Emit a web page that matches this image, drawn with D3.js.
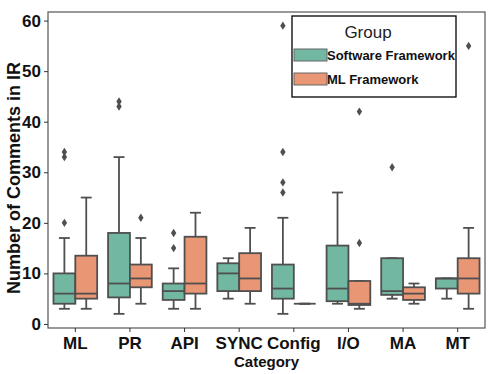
<!DOCTYPE html>
<html>
<head>
<meta charset="utf-8">
<script src="https://cdn.jsdelivr.net/npm/d3@7"></script>
<style>
  body { margin: 0; background: #fff; }
  text { font-family: "Liberation Sans", Arial, sans-serif; }
</style>
</head>
<body>
<svg id="chart" width="498" height="374"></svg>
<script>
// categories on the x axis
const categories = ["ML", "PR", "API", "SYNC", "Config", "I/O", "MA", "MT"];
const groups = ["Software Framework", "ML Framework"];
const colors = ["#71b7a1", "#e99675"];

// box stats per category: [whiskerLow, q1, median, q3, whiskerHigh]
const softwareStats = [
    [3, 4, 6, 10, 17],
    [2, 5.25, 8, 18, 33],
    [3, 4.75, 6.5, 8, 11],
    [5, 6.5, 10, 12, 13],
    [2, 5, 7, 11.75, 21],
    [4, 4.5, 7, 15.5, 26],
    [5, 5.75, 6.5, 13, 13],
    [5, 7, 9, 9, 9]
];
const mlStats = [
    [3, 5, 6, 13.5, 25],
    [4, 7.25, 9, 11.75, 17],
    [3, 6, 8, 17.25, 22],
    [4, 6.5, 9, 14, 19],
    [4, 4, 4, 4, 4],
    [3, 3.75, 4, 8.5, 8.5],
    [4, 4.75, 6, 7.25, 8],
    [3, 6, 9, 13, 19]
];

// outliers per category
const softwareOutliers = [[20, 33, 34], [43, 44], [15, 18], [], [26, 28, 34, 59], [], [31], []];
const mlOutliers = [[], [21], [], [], [], [16, 42], [], [55]];

const yTicks = [0, 10, 20, 30, 40, 50, 60];

const svg = d3.select("#chart");
const plotLeft = 48, plotRight = 485, plotTop = 12, plotBottom = 328;
const lineColor = "#4f4f4f";

const x = d3.scaleBand().domain(categories).range([plotLeft, plotRight]).padding(0);
const hue = d3.scaleBand().domain(groups).range([0, x.bandwidth() * 0.8]);
const y = d3.scaleLinear().domain([-0.8, 61.7]).range([plotBottom, plotTop]);

// frame
svg.append("rect")
    .attr("x", plotLeft).attr("y", plotTop)
    .attr("width", plotRight - plotLeft).attr("height", plotBottom - plotTop)
    .attr("fill", "none").attr("stroke", "#555").attr("stroke-width", 1.2);

// y axis
const yAxis = svg.append("g")
    .attr("transform", `translate(${plotLeft},0)`)
    .call(d3.axisLeft(y).tickValues(yTicks).tickSize(4).tickPadding(3));
yAxis.select(".domain").remove();
yAxis.selectAll(".tick line").attr("stroke", "#333");
yAxis.selectAll(".tick text")
    .attr("font-size", 17).attr("font-weight", "bold").attr("fill", "#111")
    .style("font-family", "Liberation Sans, Arial, sans-serif");

// x axis
const xAxis = svg.append("g")
    .attr("transform", `translate(0,${plotBottom})`)
    .call(d3.axisBottom(x).tickSize(4).tickPadding(5));
xAxis.select(".domain").remove();
xAxis.selectAll(".tick line").attr("stroke", "#333");
xAxis.selectAll(".tick text")
    .attr("font-size", 17).attr("font-weight", "bold").attr("fill", "#111")
    .style("font-family", "Liberation Sans, Arial, sans-serif");

// axis titles
svg.append("text")
    .attr("x", (plotLeft + plotRight) / 2).attr("y", 367)
    .attr("text-anchor", "middle")
    .attr("font-size", 15).attr("font-weight", "bold").attr("fill", "#111")
    .text("Category");

svg.append("text")
    .attr("transform", "translate(19.5,178) rotate(-90)")
    .attr("text-anchor", "middle")
    .attr("font-size", 18).attr("font-weight", "bold").attr("fill", "#111")
    .text("Number of Comments in IR");

// boxes
const series = [
    { stats: softwareStats, outliers: softwareOutliers },
    { stats: mlStats, outliers: mlOutliers }
];
const diamond = "M0,-4.2L2.7,0L0,4.2L-2.7,0Z";

series.forEach((s, gi) => {
    const g = svg.append("g");
    categories.forEach((cat, i) => {
        const [wl, q1, med, q3, wh] = s.stats[i];
        const x0 = x(cat) + x.bandwidth() * 0.1 + hue(groups[gi]);
        const w = hue.bandwidth();
        const cx = x0 + w / 2;
        const capW = w / 2;

        // whiskers
        g.append("line").attr("x1", cx).attr("x2", cx).attr("y1", y(q3)).attr("y2", y(wh))
            .attr("stroke", lineColor).attr("stroke-width", 1.8);
        g.append("line").attr("x1", cx).attr("x2", cx).attr("y1", y(q1)).attr("y2", y(wl))
            .attr("stroke", lineColor).attr("stroke-width", 1.8);
        [wl, wh].forEach(v => {
            g.append("line").attr("x1", cx - capW / 2).attr("x2", cx + capW / 2)
                .attr("y1", y(v)).attr("y2", y(v))
                .attr("stroke", lineColor).attr("stroke-width", 1.8);
        });

        // box
        g.append("rect")
            .attr("x", x0).attr("y", y(q3))
            .attr("width", w).attr("height", Math.max(0, y(q1) - y(q3)))
            .attr("fill", colors[gi]).attr("stroke", lineColor).attr("stroke-width", 1.8);

        // median
        g.append("line").attr("x1", x0).attr("x2", x0 + w).attr("y1", y(med)).attr("y2", y(med))
            .attr("stroke", lineColor).attr("stroke-width", 1.8);

        // outliers
        s.outliers[i].forEach(v => {
            g.append("path").attr("d", diamond)
                .attr("transform", `translate(${cx},${y(v)})`)
                .attr("fill", lineColor);
        });
    });
});

// legend
const legend = svg.append("g");
legend.append("rect")
    .attr("x", 292).attr("y", 16).attr("width", 164).attr("height", 81)
    .attr("fill", "#fff").attr("stroke", "#000").attr("stroke-width", 1.3);
legend.append("text")
    .attr("x", 368).attr("y", 38).attr("text-anchor", "middle")
    .attr("font-size", 17).attr("fill", "#222")
    .text("Group");
groups.forEach((name, i) => {
    const yy = 49 + i * 24;
    legend.append("rect")
        .attr("x", 294).attr("y", yy).attr("width", 33).attr("height", 12)
        .attr("fill", colors[i]).attr("stroke", "#666").attr("stroke-width", 1);
    legend.append("text")
        .attr("x", 327).attr("y", yy + 10.8)
        .attr("font-size", 13).attr("font-weight", "bold").attr("fill", "#111")
        .text(name);
});
</script>
</body>
</html>
